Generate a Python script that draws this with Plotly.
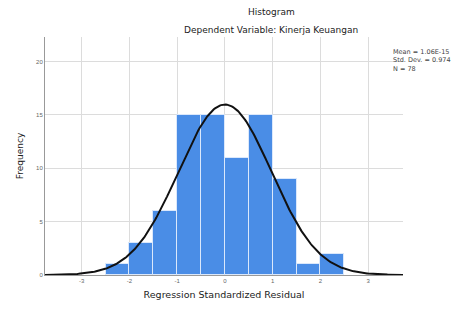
import numpy as np
import plotly.graph_objects as go

# Histogram data
bin_centers = [-2.25, -1.75, -1.25, -0.75, -0.25, 0.25, 0.75, 1.25, 1.75, 2.25]
counts = [1, 3, 6, 15, 15, 11, 15, 9, 1, 2]
bin_width = 0.5

# Summary stats shown in the legend box
mean_val = 1.06e-15
std_dev = 0.974
n_obs = 78

x_ticks = [-3, -2, -1, 0, 1, 2, 3]
y_ticks = [0, 5, 10, 15, 20]

# The page body has an 8px margin; work in figure pixel coords
W, H = 455, 303
l, r, t, b = 34, 60, 29, 36
pw, ph = W - l - r, H - t - b


def px(x):
    return (x - 8 - l) / pw


def py(y):
    return 1 - (y - 8 - t) / ph


TFONT = "DejaVu Sans, Arial, sans-serif"

fig = go.Figure()
fig.add_trace(go.Bar(
    x=bin_centers, y=counts, width=bin_width,
    marker=dict(color="#4a8de6", line=dict(color="#dbe8fb", width=1)),
    showlegend=False, hoverinfo="x+y"))

# Fitted normal curve from the summary statistics
xs = np.linspace(-3.77, 3.73, 300)
ys = n_obs * bin_width / (std_dev * np.sqrt(2 * np.pi)) * np.exp(-0.5 * (xs / std_dev) ** 2)
fig.add_trace(go.Scatter(x=xs, y=ys, mode="lines",
                         line=dict(color="#111111", width=2),
                         showlegend=False, hoverinfo="skip"))

fig.update_layout(
    width=W, height=H,
    margin=dict(l=l, r=r, t=t, b=b),
    paper_bgcolor="white", plot_bgcolor="white",
    font=dict(family="Arial, Liberation Sans, sans-serif", color="#333"),
    bargap=0,
    annotations=[
        dict(text="Histogram", x=px(270), y=py(12), xref="paper", yref="paper",
             xanchor="center", yanchor="middle",
             showarrow=False, font=dict(family=TFONT, size=9, color="#222")),
        dict(text="Dependent Variable: Kinerja Keuangan", x=px(270), y=py(30),
             xref="paper", yref="paper", xanchor="center", yanchor="middle",
             showarrow=False, font=dict(family=TFONT, size=9, color="#222")),
        dict(text="Mean = 1.06E-15<br>Std. Dev. = 0.974<br>N = 78",
             x=px(391), y=py(61), xref="paper", yref="paper",
             xanchor="left", yanchor="middle",
             showarrow=False, align="left",
             font=dict(family=TFONT, size=6.5, color="#444")),
    ],
)

fig.update_xaxes(range=[-3.77, 3.73], tickvals=x_ticks, ticktext=[str(v) for v in x_ticks],
                 showgrid=True, gridcolor="#dcdcdc", gridwidth=1, zeroline=False,
                 showline=True, linecolor="#999", linewidth=1,
                 tickfont=dict(size=6, color="#666"), ticks="",
                 title=dict(text="Regression Standardized Residual",
                            font=dict(family=TFONT, size=9.5, color="#222"), standoff=8))
fig.update_yaxes(range=[0, 22.3], tickvals=y_ticks, ticktext=[str(v) for v in y_ticks],
                 showgrid=True, gridcolor="#dcdcdc", gridwidth=1, zeroline=False,
                 showline=True, linecolor="#999", linewidth=1,
                 tickfont=dict(size=6, color="#666"), ticks="",
                 title=dict(text="Frequency", font=dict(family=TFONT, size=9, color="#222"),
                            standoff=10))

fig.write_html("out.html")
